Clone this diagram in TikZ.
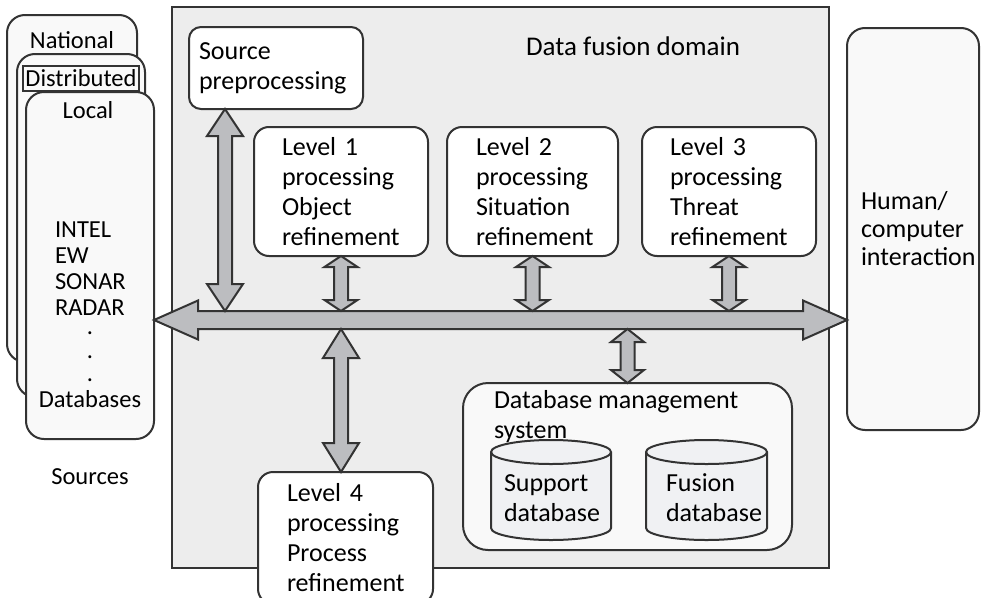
\documentclass[tikz,border=0pt]{standalone}
\usepackage{fontspec}
\setmainfont{Carlito}
\usetikzlibrary{calc}

\definecolor{edge}{HTML}{333333}
\definecolor{domainfill}{HTML}{EDEDED}
\definecolor{arrowfill}{HTML}{BCBDC0}
\definecolor{paperfill}{HTML}{F9F9F9}
\definecolor{cylfill}{HTML}{F0F1F3}

\newcommand\figbodyfont{\fontsize{26}{30}\selectfont}
\newcommand\figsrcfont{\fontsize{24.5}{25.7}\selectfont}

\tikzset{
  procbox/.style={draw=edge, line width=2pt, fill=white, rounded corners=15pt,
    align=left, anchor=north west, inner ysep=0pt, outer sep=0pt, font=\figbodyfont},
  srcbox/.style={draw=edge, line width=2pt, fill=paperfill, rounded corners=18pt,
    anchor=north west, inner sep=0pt, outer sep=0pt},
  flowarrow/.style={draw=edge, line width=2pt, fill=arrowfill, line join=miter},
  cyl/.style={draw=edge, line width=2pt, fill=cylfill},
  plain/.style={inner sep=0pt, outer sep=0pt, font=\figbodyfont},
  srctext/.style={inner sep=0pt, outer sep=0pt, font=\figsrcfont},
}

% vertical two-headed block arrow: upper point, lower point,
% shaft half width, head half width, head length
\newcommand\twowayV[5]{%
  \draw[flowarrow] let \p1=(#1), \p2=(#2) in
    (\x1,\y1) -- ({\x1+#4},{\y1-#5}) -- ({\x1+#3},{\y1-#5})
    -- ({\x2+#3},{\y2+#5}) -- ({\x2+#4},{\y2+#5}) -- (\x2,\y2)
    -- ({\x2-#4},{\y2+#5}) -- ({\x2-#3},{\y2+#5})
    -- ({\x1-#3},{\y1-#5}) -- ({\x1-#4},{\y1-#5}) -- cycle;}

% horizontal two-headed block arrow: left point, right point,
% shaft half height, head half height, head length
\newcommand\twowayH[5]{%
  \draw[flowarrow] let \p1=(#1), \p2=(#2) in
    (\x1,\y1) -- ({\x1+#5},{\y1+#4}) -- ({\x1+#5},{\y1+#3})
    -- ({\x2-#5},{\y2+#3}) -- ({\x2-#5},{\y2+#4}) -- (\x2,\y2)
    -- ({\x2-#5},{\y2-#4}) -- ({\x2-#5},{\y2-#3})
    -- ({\x1+#5},{\y1-#3}) -- ({\x1+#5},{\y1-#4}) -- cycle;}

\begin{document}
\begin{tikzpicture}[x=1pt, y=-1pt]
\useasboundingbox (0,0) rectangle (981,597);

% ---- data fusion domain ----
\node[draw=edge, line width=2.8pt, fill=domainfill, anchor=north west,
      inner sep=0pt, outer sep=0pt, minimum width=657pt, minimum height=561pt]
      (domain) at (172,7) {};
\node[plain, anchor=base west, font=\fontsize{27}{30}\selectfont] (domaintitle)
      at (526,55) {Data fusion domain};

\node[procbox, rounded corners=12pt, minimum height=82pt, text width=154pt,
      inner xsep=10pt] (srcpre) at (189,27) {Source\\preprocessing};

\node[procbox, minimum height=129pt, text width=118pt, inner xsep=28pt]
      (lvl1) at (254,127) {Level 1\\processing\\Object\\refinement};
\node[procbox, minimum height=129pt, text width=113pt, inner xsep=29pt]
      (lvl2) at (447,127) {Level 2\\processing\\Situation\\refinement};
\node[procbox, minimum height=129pt, text width=118pt, inner xsep=28pt]
      (lvl3) at (642,127) {Level 3\\processing\\Threat\\refinement};

% ---- database management system ----
\node[draw=edge, line width=2pt, fill=paperfill, rounded corners=25pt,
      anchor=north west, inner sep=0pt, outer sep=0pt,
      minimum width=329pt, minimum height=167pt] (dbms) at (463,383) {};
\node[plain, anchor=base west, align=left] (dbmstitle) at (494,438)
      {Database management\\system};

\draw[cyl] (491,452) -- (491,528)
  arc[start angle=180, end angle=360, x radius=60pt, y radius=12pt]
  -- (611,452) arc[start angle=0, end angle=180, x radius=60pt, y radius=12pt] -- cycle;
\draw[draw=edge, line width=2pt] (491,452)
  arc[start angle=180, end angle=360, x radius=60pt, y radius=12pt];
\node[plain, anchor=base west, align=left] (supportdb) at (504,521) {Support\\database};

\draw[cyl] (646,452) -- (646,528)
  arc[start angle=180, end angle=360, x radius=60.5pt, y radius=12pt]
  -- (767,452) arc[start angle=0, end angle=180, x radius=60.5pt, y radius=12pt] -- cycle;
\draw[draw=edge, line width=2pt] (646,452)
  arc[start angle=180, end angle=360, x radius=60.5pt, y radius=12pt];
\node[plain, anchor=base west, align=left] (fusiondb) at (666,521) {Fusion\\database};

% ---- level 4, crossing the lower border ----
\node[procbox, minimum height=132pt, text width=117pt, inner xsep=29pt]
      (lvl4) at (258,472) {Level 4\\processing\\Process\\refinement};

% ---- human/computer interaction ----
\node[procbox, fill=paperfill, rounded corners=18pt, minimum height=402pt,
      text width=104pt, inner xsep=14pt, font=\fontsize{26}{28}\selectfont]
      (human) at (847,28) {Human/\\computer\\interaction};

% ---- sources ----
\node[srcbox, minimum width=130pt, minimum height=347pt] (national) at (7,15) {};
\node[srctext, anchor=base] (nationaltext) at (72,48) {National};
\node[srcbox, minimum width=128pt, minimum height=343pt] (distributed) at (17,54) {};
\node[draw=edge, line width=1.6pt, fill=paperfill, anchor=north west,
      inner sep=0pt, outer sep=0pt, minimum width=116pt, minimum height=25pt,
      font=\figsrcfont] (distlabel) at (23,66) {Distributed};
\node[srcbox, minimum width=128pt, minimum height=347pt] (local) at (26,92) {};
\node[srctext, anchor=base] (localtext) at (88,118) {Local};
\node[srctext, anchor=base west, align=left] (sensors) at (55,315)
      {INTEL\\EW\\SONAR\\RADAR};
\node[srctext, anchor=base] (dotA) at (90,334) {.};
\node[srctext, anchor=base] (dotB) at (90,358) {.};
\node[srctext, anchor=base] (dotC) at (90,381) {.};
\node[srctext, anchor=base] (databases) at (90,407) {Databases};
\node[srctext, anchor=base] (sourceslabel) at (90,484) {Sources};

% ---- bus and connectors ----
\coordinate (busmid) at (0,320);
\coordinate (bustop) at (0,311);
\coordinate (busbot) at (0,329);
\coordinate (srcpredrop) at ($(srcpre.south west)+(36,0)$);

\twowayH{local.east |- busmid}{human.west |- busmid}{9pt}{19.5pt}{44pt}

\twowayV{srcpredrop}{srcpredrop |- bustop}{7pt}{18pt}{27pt}
\twowayV{lvl1.south}{lvl1.south |- bustop}{7pt}{16.5pt}{11pt}
\twowayV{lvl2.south}{lvl2.south |- bustop}{7pt}{16.5pt}{11pt}
\twowayV{lvl3.south}{lvl3.south |- bustop}{7pt}{16.5pt}{11pt}
\twowayV{lvl1.south |- busbot}{lvl1.south |- lvl4.north}{7pt}{18pt}{29pt}
\twowayV{dbms.north |- busbot}{dbms.north}{7pt}{16.5pt}{13pt}

\end{tikzpicture}
\end{document}
